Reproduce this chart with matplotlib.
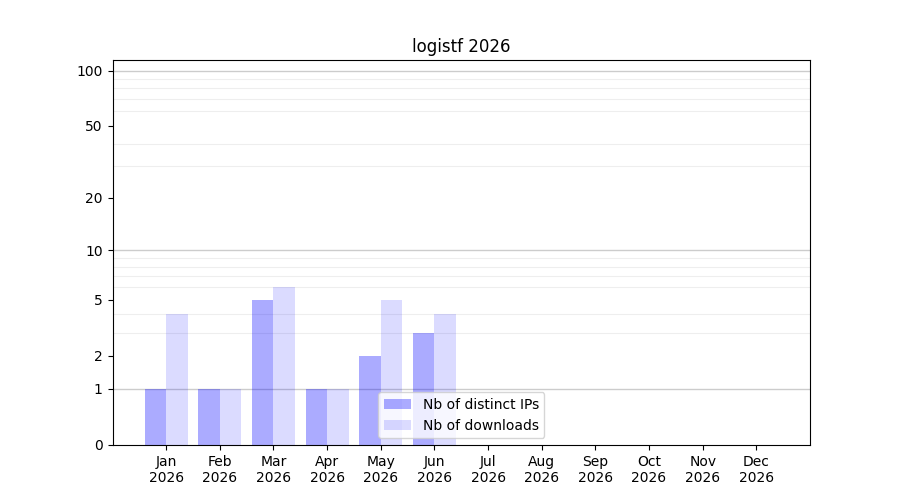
import numpy as np
import matplotlib
matplotlib.use("Agg")
import matplotlib.pyplot as plt

months = ["Jan", "Feb", "Mar", "Apr", "May", "Jun", "Jul", "Aug", "Sep", "Oct", "Nov", "Dec"]
year = 2026
distinct_ips = [1, 1, 5, 1, 2, 3, 0, 0, 0, 0, 0, 0]
downloads = [4, 1, 6, 1, 5, 4, 0, 0, 0, 0, 0, 0]
ytick_values = [0, 1, 2, 5, 10, 20, 50, 100]
minor_values = [2, 3, 4, 5, 6, 7, 8, 9, 20, 30, 40, 50, 60, 70, 80, 90]
decade_values = [1, 10, 100]

def fwd(y):
    return np.log10(np.maximum(y, 0) + 1)

def inv(y):
    return 10 ** y - 1

fig, ax = plt.subplots(figsize=(9, 5), dpi=100)
ax.set_yscale("function", functions=(fwd, inv))

x = np.arange(len(months))
w = 0.4
ax.bar(x - w / 2, distinct_ips, w, color="blue", alpha=0.33, label="Nb of distinct IPs", zorder=2)
ax.bar(x + w / 2, downloads, w, color="blue", alpha=0.14, label="Nb of downloads", zorder=2)

ax.set_ylim(0, 114)
ax.set_xlim(-1, 12)
ax.set_yticks(ytick_values)
ax.set_yticklabels([str(v) for v in ytick_values])
ax.set_yticks(minor_values, minor=True)
ax.tick_params(axis="y", which="minor", length=0)
ax.grid(True, axis="y", which="minor", color="#eeeeee", linewidth=0.8, zorder=0)
for v in decade_values:
    ax.axhline(v, color="#cccccc", linewidth=1, zorder=1)

ax.set_xticks(x)
ax.set_xticklabels([f"{m}\n{year}" for m in months])
ax.set_title(f"logistf {year}")
ax.legend(loc="lower center")

fig.savefig("out.png")
